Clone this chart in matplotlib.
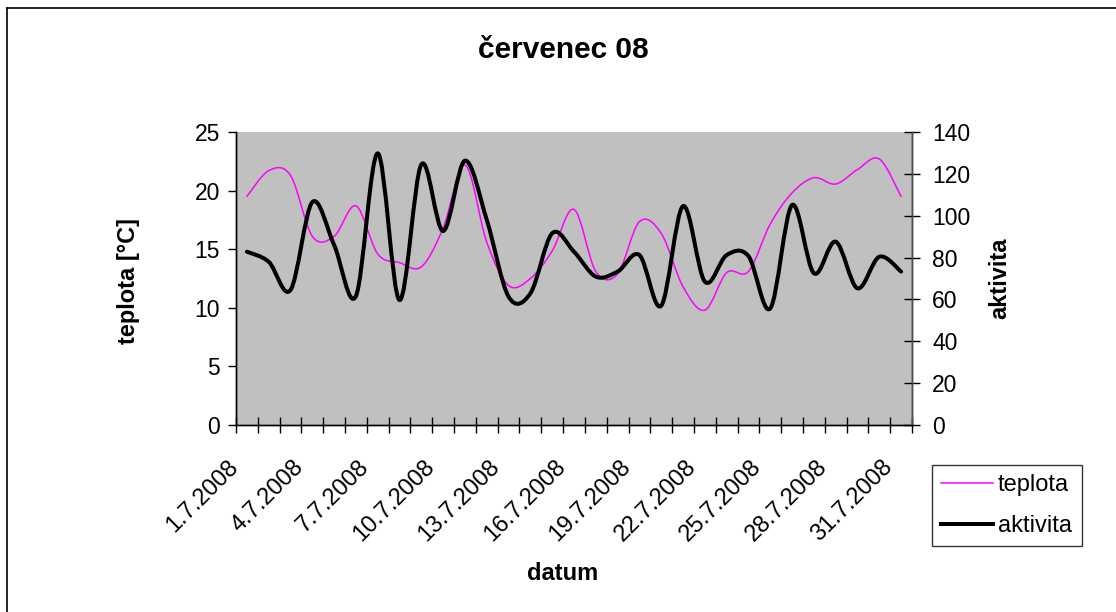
import matplotlib
matplotlib.use("Agg")
import matplotlib.pyplot as plt
from matplotlib.path import Path
from matplotlib.patches import PathPatch
from matplotlib.lines import Line2D
from matplotlib.transforms import ScaledTranslation
import numpy as np

plt.rcParams['font.family'] = ['Liberation Sans', 'DejaVu Sans']

# ---- data ----
days = list(range(1, 32))
date_labels = [f"{d}.7.2008" for d in days]
teplota = [19.5, 21.7, 21.3, 16.1, 16.1, 18.7, 14.6, 13.85, 13.5, 16.8,
           22.2, 15.6, 11.9, 12.5, 14.85, 18.4, 13.1, 12.9, 17.35, 16.35,
           11.8, 9.8, 13.0, 13.1, 17.15, 19.8, 21.1, 20.56, 21.8, 22.7, 19.5]
aktivita = [82.8, 78.0, 64.5, 106.5, 86.0, 61.6, 129.8, 59.7, 124.5, 92.7,
            126.3, 98.0, 61.3, 62.9, 91.6, 82.8, 70.9, 73.3, 81.2, 57.0,
            104.6, 68.5, 81.2, 80.7, 55.7, 105.1, 72.5, 87.6, 65.3, 80.4, 73.3]
left_ticks = [0, 5, 10, 15, 20, 25]
right_ticks = [0, 20, 40, 60, 80, 100, 120, 140]


def smooth_path(xs, ys):
    """Excel-style smoothed line: cubic Bezier through the data points."""
    xs = np.asarray(xs, float)
    ys = np.asarray(ys, float)
    n = len(xs)
    verts = [(xs[0], ys[0])]
    codes = [Path.MOVETO]
    for i in range(n - 1):
        i0 = max(i - 1, 0)
        i3 = min(i + 2, n - 1)
        c1 = (xs[i] + (xs[i + 1] - xs[i0]) / 6.0, ys[i] + (ys[i + 1] - ys[i0]) / 6.0)
        c2 = (xs[i + 1] - (xs[i3] - xs[i]) / 6.0, ys[i + 1] - (ys[i3] - ys[i]) / 6.0)
        verts += [c1, c2, (xs[i + 1], ys[i + 1])]
        codes += [Path.CURVE4] * 3
    return Path(verts, codes)


W, H = 1116, 612
fig = plt.figure(figsize=(W / 100, H / 100), dpi=100)
fig.patch.set_facecolor('white')

ax = fig.add_axes([236 / W, 1 - 425 / H, 676 / W, 293 / H])
ax.set_facecolor('#C0C0C0')
ax2 = ax.twinx()

x = np.arange(len(days))
ax.add_patch(PathPatch(smooth_path(x, teplota), facecolor='none',
                       edgecolor='#FF00FF', lw=1.1, transform=ax.transData,
                       capstyle='round', joinstyle='round'))
ax2.add_patch(PathPatch(smooth_path(x, aktivita), facecolor='none',
                        edgecolor='black', lw=2.9, transform=ax2.transData,
                        capstyle='round', joinstyle='round'))

ax.set_xlim(-0.5, len(days) - 0.5)
ax.set_ylim(0, 25)
ax2.set_ylim(0, 140)
ax.set_yticks(left_ticks)
ax2.set_yticks(right_ticks)

# category boundaries as major ticks, labels every third day
ax.set_xticks(np.arange(-0.5, len(days) + 0.5, 1.0))
ax.set_xticklabels([])
ax.set_xticks(x[::3], minor=True)
ax.set_xticklabels(date_labels[::3], minor=True, rotation=45,
                   ha='right', va='center', rotation_mode='anchor', fontsize=17)
ax.tick_params(axis='x', which='major', direction='inout', length=11, width=1)
ax.tick_params(axis='x', which='minor', length=0, pad=28)
shift = ScaledTranslation(-12 / 100, 0, fig.dpi_scale_trans)
for lab in ax.get_xticklabels(minor=True):
    lab.set_transform(lab.get_transform() + shift)
ax.tick_params(axis='y', direction='out', length=5.5, width=1, labelsize=16.5, pad=6)
ax2.tick_params(axis='y', direction='inout', length=11, width=1, labelsize=16.5, pad=9)

for a in (ax, ax2):
    a.spines['top'].set_visible(False)
    for s in ('left', 'right', 'bottom'):
        a.spines[s].set_color('black')
        a.spines[s].set_linewidth(1)
ax2.spines['right'].set_color('#505050')

fig.text(563 / W, 1 - 50 / H, 'červenec 08', ha='center', va='center',
         fontsize=21.5, fontweight='bold')
fig.text(128 / W, 1 - 281 / H, 'teplota [°C]', ha='center', va='center',
         rotation=90, fontsize=17, fontweight='bold')
fig.text(1000 / W, 1 - 278 / H, 'aktivita', ha='center', va='center',
         rotation=90, fontsize=17, fontweight='bold')
fig.text(563 / W, 1 - 573 / H, 'datum', ha='center', va='center',
         fontsize=17, fontweight='bold')

handles = [Line2D([], [], color='#FF00FF', lw=1.1),
           Line2D([], [], color='black', lw=2.9)]
leg = fig.legend(handles, ['teplota', 'aktivita'], loc='upper left',
                 bbox_to_anchor=(931.5 / W, 1 - 465 / H), fontsize=17,
                 frameon=True, fancybox=False, edgecolor='black',
                 handlelength=2.2, handletextpad=0.22, labelspacing=0.78,
                 borderpad=0.4, borderaxespad=0)
leg.get_frame().set_linewidth(1)

# outer chart border (only left and top edges visible)
fig.add_artist(Line2D([7 / W, 7 / W], [0, 1 - 8 / H], color='black', lw=1.2))
fig.add_artist(Line2D([7 / W, 1], [1 - 8 / H, 1 - 8 / H], color='black', lw=1.2))

fig.savefig('out.png', dpi=100)
